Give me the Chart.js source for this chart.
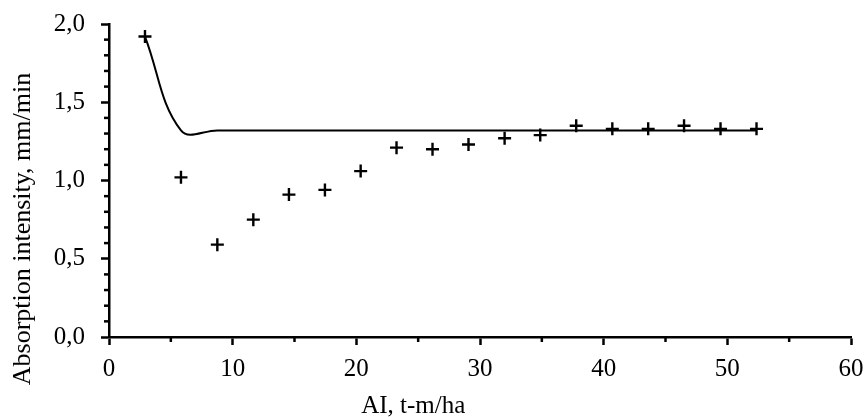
<!DOCTYPE html>
<html>
<head>
<meta charset="utf-8">
<script src="https://cdn.jsdelivr.net/npm/chart.js@4/dist/chart.umd.min.js"></script>
<style>
  html, body { margin: 0; padding: 0; background: #fff; }
  #wrap { width: 867px; height: 417px; }
</style>
</head>
<body>
<div id="wrap"><canvas id="c" width="867" height="417"></canvas></div>
<script>
// Data
const aiValues = [2.91, 5.82, 8.76, 11.67, 14.55, 17.46, 20.35, 23.25, 26.16, 29.07, 31.99, 34.87, 37.78, 40.70, 43.60, 46.50, 49.45, 52.36];
const measuredIntensity = [1.92, 1.02, 0.59, 0.75, 0.91, 0.94, 1.06, 1.21, 1.20, 1.23, 1.27, 1.29, 1.35, 1.33, 1.33, 1.35, 1.33, 1.33];
const modelIntensity = [1.92, 1.32, 1.32, 1.32, 1.32, 1.32, 1.32, 1.32, 1.32, 1.32, 1.32, 1.32, 1.32, 1.32, 1.32, 1.32, 1.32, 1.32];
const xTickValues = [0, 10, 20, 30, 40, 50, 60];
const xTickLabels = ['0', '10', '20', '30', '40', '50', '60'];
const yTickValues = [0, 0.5, 1.0, 1.5, 2.0];
const yTickLabels = ['0,0', '0,5', '1,0', '1,5', '2,0'];
const xMinorTicks = [5, 15, 25, 35, 45, 55];
const yMinorTicks = [0.1, 0.2, 0.3, 0.4, 0.6, 0.7, 0.8, 0.9, 1.1, 1.2, 1.3, 1.4, 1.6, 1.7, 1.8, 1.9];
const xTitle = 'AI, t-m/ha';
const yTitle = 'Absorption intensity, mm/min';

const FONT = "'Liberation Serif', 'Times New Roman', serif";
const FSIZE = 25;

const minorTicks = {
  id: 'minorTicks',
  afterDraw(chart) {
    const ctx = chart.ctx;
    const xs = chart.scales.x, ys = chart.scales.y;
    const area = chart.chartArea;
    ctx.save();
    ctx.strokeStyle = '#000';
    ctx.lineWidth = 2.5;
    xMinorTicks.forEach(v => {
      const px = xs.getPixelForValue(v);
      ctx.beginPath(); ctx.moveTo(px, area.bottom); ctx.lineTo(px, area.bottom + 5); ctx.stroke();
    });
    yMinorTicks.forEach(v => {
      const py = ys.getPixelForValue(v);
      ctx.beginPath(); ctx.moveTo(area.left, py); ctx.lineTo(area.left - 5, py); ctx.stroke();
    });
    // axis titles (placed where the reference has them, off-centre)
    ctx.fillStyle = '#000';
    ctx.textAlign = 'center';
    ctx.textBaseline = 'alphabetic';
    ctx.font = FSIZE + 'px ' + FONT;
    ctx.fillText(xTitle, area.left + 0.41 * (area.right - area.left), 413);
    ctx.font = '26px ' + FONT;
    ctx.translate(30, area.top + 0.655 * (area.bottom - area.top));
    ctx.rotate(-Math.PI / 2);
    ctx.fillText(yTitle, 0, 0);
    ctx.restore();
  }
};

new Chart(document.getElementById('c'), {
  type: 'scatter',
  data: {
    datasets: [
      {
        label: 'model',
        data: aiValues.map((x, i) => ({ x, y: modelIntensity[i] })),
        showLine: true,
        borderColor: '#000',
        borderWidth: 2,
        pointRadius: 0,
        tension: 0.4,
        order: 2
      },
      {
        label: 'measured',
        data: aiValues.map((x, i) => ({ x, y: measuredIntensity[i] })),
        showLine: false,
        pointStyle: 'cross',
        pointRadius: 6.5,
        pointBorderWidth: 2.4,
        pointBorderColor: '#000',
        pointBackgroundColor: '#000',
        order: 1
      }
    ]
  },
  options: {
    responsive: false,
    animation: false,
    devicePixelRatio: 1,
    layout: { padding: { left: 0, right: 16, top: 24, bottom: 0 } },
    plugins: { legend: { display: false }, tooltip: { enabled: false } },
    scales: {
      x: {
        type: 'linear',
        min: 0, max: 60,
        afterBuildTicks: s => { s.ticks = xTickValues.map(v => ({ value: v })); },
        afterFit: s => { s.height = 80; s.paddingLeft = 0; s.paddingRight = 0; },
        ticks: {
          color: '#000',
          padding: 9,
          font: { family: FONT, size: FSIZE },
          callback: (v) => xTickLabels[xTickValues.indexOf(v)],
          maxRotation: 0
        },
        grid: { display: true, drawOnChartArea: false, drawTicks: true, tickLength: 8, tickWidth: 2.5, tickColor: '#000' },
        border: { display: true, color: '#000', width: 2.5 },
        title: { display: false, text: xTitle }
      },
      y: {
        type: 'linear',
        min: 0, max: 2,
        afterBuildTicks: s => { s.ticks = yTickValues.map(v => ({ value: v })); },
        afterFit: s => { s.width = 109; s.paddingTop = 0; s.paddingBottom = 0; },
        ticks: {
          color: '#000',
          padding: 16,
          font: { family: FONT, size: FSIZE },
          callback: (v) => yTickLabels[yTickValues.indexOf(v)]
        },
        grid: { display: true, drawOnChartArea: false, drawTicks: true, tickLength: 8, tickWidth: 2.5, tickColor: '#000' },
        border: { display: true, color: '#000', width: 2.5 },
        title: { display: false, text: yTitle }
      }
    }
  },
  plugins: [minorTicks]
});
</script>
</body>
</html>
